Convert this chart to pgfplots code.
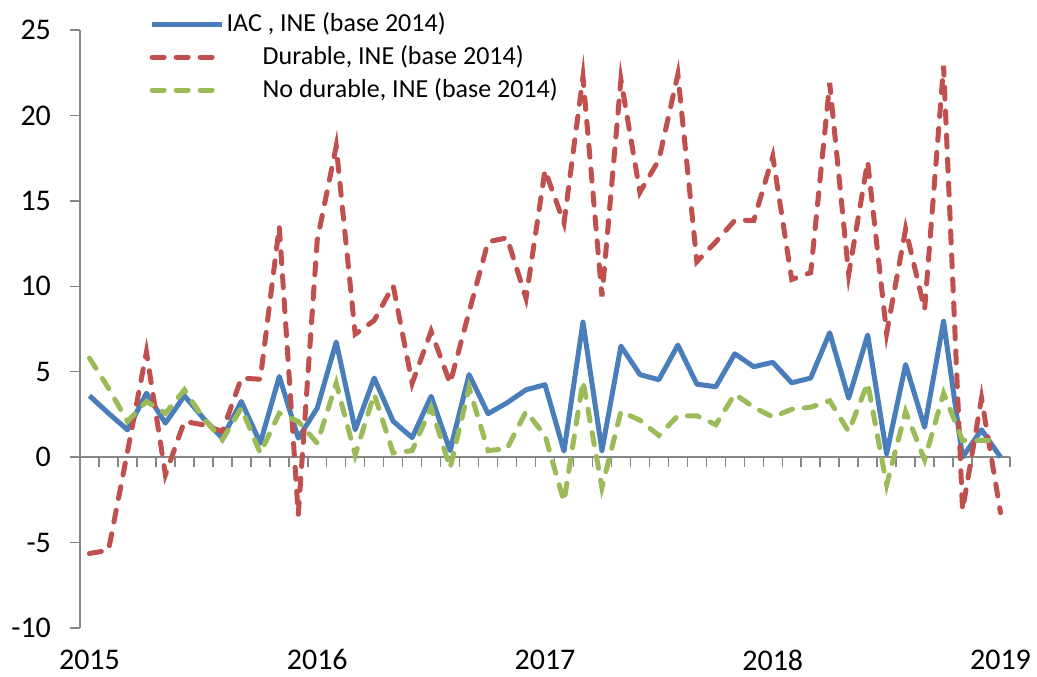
\documentclass[border=0pt]{standalone}
\usepackage{fontspec}
\setmainfont{Carlito}
\usepackage{pgfplots}
\pgfplotsset{compat=1.18}
\definecolor{cblue}{HTML}{4A7EBB}
\definecolor{cred}{HTML}{C0504D}
\definecolor{cgreen}{HTML}{9BBB59}
\definecolor{axgray}{HTML}{868686}
\begin{document}
\begin{tikzpicture}
\begin{axis}[
  scale only axis, width=465pt, height=299pt,
  xmin=-0.5, xmax=48.5, ymin=-10, ymax=25,
  axis y line=left, axis x line=bottom,
  axis line style={-, axgray, line width=0.75pt},
  x axis line style={draw=none},
  xtick={0,12,24,36,48}, xticklabels={2015,2016,2017,2018,2019},
  xtick style={draw=none},
  ytick={-10,-5,0,5,10,15,20,25}, yticklabels={-10,-5,0,5,10,15,20,25},
  ytick style={axgray, line width=0.75pt},
  tick align=outside, major tick length=5pt,
  tick label style={font=\fontsize{15}{18}\selectfont},
  xticklabel style={yshift=-2.3pt},
  yticklabel style={xshift=-6pt},
  clip=false,
  legend cell align=left,
  legend style={draw=none, fill=none, at={(0.068,1.042)}, anchor=north west,
    font=\fontsize{13}{15}\selectfont, row sep=1.5pt,
    nodes={inner sep=1pt, text height=10pt, text depth=3pt}},
  legend image code/.code={\draw[#1] (0pt,0pt) -- (35pt,0pt);},
]
\addplot[axgray, line width=0.75pt, forget plot] coordinates {(-0.5,0) (48.5,0)};
\addplot[axgray, line width=0.75pt, ycomb, forget plot] coordinates {
(-0.5,-0.6) (0.5,-0.6) (1.5,-0.6) (2.5,-0.6) (3.5,-0.6) (4.5,-0.6) (5.5,-0.6) (6.5,-0.6) (7.5,-0.6) (8.5,-0.6)
(9.5,-0.6) (10.5,-0.6) (11.5,-0.6) (12.5,-0.6) (13.5,-0.6) (14.5,-0.6) (15.5,-0.6) (16.5,-0.6) (17.5,-0.6) (18.5,-0.6)
(19.5,-0.6) (20.5,-0.6) (21.5,-0.6) (22.5,-0.6) (23.5,-0.6) (24.5,-0.6) (25.5,-0.6) (26.5,-0.6) (27.5,-0.6) (28.5,-0.6)
(29.5,-0.6) (30.5,-0.6) (31.5,-0.6) (32.5,-0.6) (33.5,-0.6) (34.5,-0.6) (35.5,-0.6) (36.5,-0.6) (37.5,-0.6) (38.5,-0.6)
(39.5,-0.6) (40.5,-0.6) (41.5,-0.6) (42.5,-0.6) (43.5,-0.6) (44.5,-0.6) (45.5,-0.6) (46.5,-0.6) (47.5,-0.6) (48.5,-0.6)};
\addplot[cblue, line width=2.5pt, line join=round] table {
x y
0 3.59
1 2.57
2 1.6
3 3.74
4 1.99
5 3.59
6 2.28
7 1.11
8 3.26
9 0.82
10 4.72
11 1.11
12 2.87
13 6.74
14 1.6
15 4.63
16 2.1
17 1.14
18 3.56
19 0.38
20 4.83
21 2.54
22 3.18
23 3.94
24 4.24
25 0.35
26 7.9
27 0.38
28 6.5
29 4.83
30 4.53
31 6.56
32 4.27
33 4.12
34 6.05
35 5.29
36 5.55
37 4.35
38 4.63
39 7.28
40 3.45
41 7.15
42 0.2
43 5.42
44 1.75
45 7.95
46 0
47 1.6
48 0
};
\addlegendentry{IAC , INE (base 2014)}
\addplot[cred, line width=2.5pt, line cap=round, dash pattern=on 6pt off 6pt] table {
x y
0 -5.64
1 -5.45
2 0.3
3 6.15
4 -1.03
5 2.09
6 1.89
7 1.5
8 4.62
9 4.56
10 13.5
11 -3.37
12 12.7
13 18.2
14 7.2
15 8.0
16 10.04
17 4.32
18 7.37
19 4.32
20 8.5
21 12.6
22 12.84
23 9.3
24 16.8
25 13.7
26 22.25
27 9.4
28 22.1
29 15.5
30 17.4
31 22.4
32 11.44
33 12.6
34 13.86
35 13.86
36 17.6
37 10.4
38 10.8
39 21.9
40 10.7
41 17.3
42 7.25
43 13.35
44 8.64
45 22.9
46 -3.1
47 3.45
48 -3.25
};
\addlegendentry{\hspace*{18pt}Durable, INE (base 2014)}
\addplot[cgreen, line width=2.5pt, line cap=round, dash pattern=on 6pt off 6pt] table {
x y
0 5.79
1 4.04
2 2.09
3 3.26
4 2.57
5 3.94
6 2.28
7 1.01
8 2.87
9 0.23
10 2.57
11 2.09
12 0.82
13 4.32
14 0.13
15 3.69
16 0.25
17 0.38
18 2.92
19 -0.64
20 4.07
21 0.38
22 0.5
23 2.67
24 1.27
25 -2.6
26 4.45
27 -1.78
28 2.67
29 2.16
30 1.27
31 2.42
32 2.42
33 1.9
34 3.69
35 2.92
36 2.35
37 2.8
38 2.92
39 3.3
40 1.5
41 4.33
42 -1.62
43 2.67
44 -0.16
45 3.74
46 0.98
47 0.98
48 0.98
};
\addlegendentry{\hspace*{18pt}No durable, INE (base 2014)}
\end{axis}
\pgfresetboundingbox
\path[use as bounding box] ([xshift=-40pt,yshift=-24.5pt]current axis.south west) rectangle ([xshift=13.5pt,yshift=15pt]current axis.north east);
\end{tikzpicture}
\end{document}
